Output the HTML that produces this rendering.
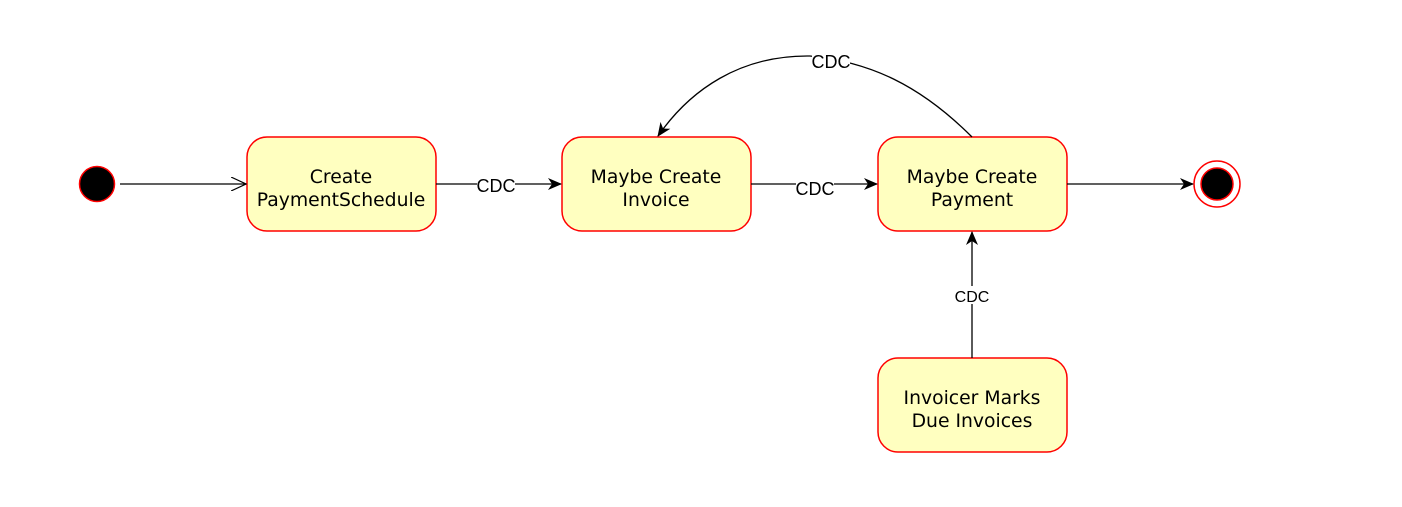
<!DOCTYPE html>
<html><head><meta charset="utf-8"><style>
body{margin:0;background:#fff;}
</style></head><body>
<svg width="1402" height="502" xmlns="http://www.w3.org/2000/svg">
<defs>
<marker id="a" markerWidth="14" markerHeight="12" refX="13" refY="6" orient="auto" markerUnits="userSpaceOnUse">
<path d="M0,0 L14,6 L0,12 L4,6 Z" fill="#000"/></marker>
<marker id="o" markerWidth="16" markerHeight="14" refX="15" refY="7" orient="auto" markerUnits="userSpaceOnUse">
<path d="M0,0 L15,7 L0,14" fill="none" stroke="#000" stroke-width="1.2"/></marker>
</defs>
<g fill="#ffffc0" stroke="#ff0000" stroke-width="1.5">
<rect x="247" y="137" width="189" height="94" rx="20"/>
<rect x="562" y="137" width="189" height="94" rx="20"/>
<rect x="878" y="137" width="189" height="94" rx="20"/>
<rect x="878" y="358" width="189" height="94" rx="20"/>
</g>
<circle cx="97" cy="184" r="17.5" fill="#000" stroke="#ff0000" stroke-width="1.5"/>
<circle cx="1217" cy="184" r="23" fill="#fff" stroke="#ff0000" stroke-width="1.5"/>
<circle cx="1217" cy="184" r="16" fill="#000" stroke="#ff0000" stroke-width="1.5"/>
<g stroke="#000" stroke-width="1.3" fill="none">
<line x1="120" y1="184" x2="246" y2="184" marker-end="url(#o)"/>
<line x1="436" y1="184" x2="561" y2="184" marker-end="url(#a)"/>
<line x1="751" y1="184" x2="877" y2="184" marker-end="url(#a)"/>
<line x1="1067" y1="184" x2="1193" y2="184" marker-end="url(#a)"/>
<line x1="972" y1="358" x2="972" y2="232" marker-end="url(#a)"/>
<path d="M972,137 C920,85 870,62 810,56 C740,55 690,90 658,136" marker-end="url(#a)"/>
</g>
<g font-family="'Liberation Sans',sans-serif" font-size="18" text-anchor="middle" fill="#000">
<rect x="477" y="176" width="38" height="18" fill="#fff"/>
<text x="496" y="192">CDC</text>
<rect x="796" y="178" width="38" height="18" fill="#fff"/>
<text x="815" y="195">CDC</text>
<rect x="812" y="52" width="38" height="20" fill="#fff"/>
<text x="831" y="68">CDC</text>
<rect x="953" y="286" width="38" height="18" fill="#fff"/>
<text x="972" y="302" font-size="16">CDC</text>
</g>
<g font-family="'DejaVu Sans',sans-serif" font-size="18.8" text-anchor="middle" fill="#000">
<text x="341" y="183">Create</text><text x="341" y="206">PaymentSchedule</text>
<text x="656" y="183">Maybe Create</text><text x="656" y="206">Invoice</text>
<text x="972" y="183">Maybe Create</text><text x="972" y="206">Payment</text>
<text x="972" y="404">Invoicer Marks</text><text x="972" y="427">Due Invoices</text>
</g>
</svg>
</body></html>
